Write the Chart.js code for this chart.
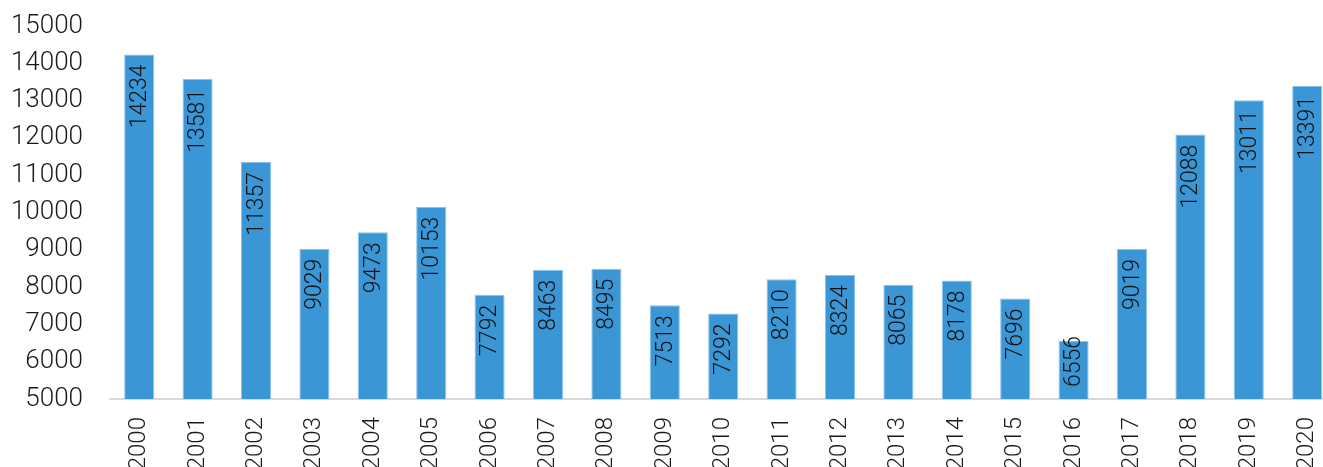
<!DOCTYPE html>
<html>
<head>
<meta charset="utf-8">
<script src="https://cdn.jsdelivr.net/npm/chart.js@4.4.1/dist/chart.umd.min.js"></script>
<style>
  html, body { margin: 0; padding: 0; background: #fff; overflow: hidden; }
  #wrap { width: 1354px; height: 467px; }
</style>
</head>
<body>
<div id="wrap"><canvas id="myChart" width="1354" height="467"></canvas></div>
<script>
// years on the x axis
const years = ['2000', '2001', '2002', '2003', '2004', '2005', '2006', '2007', '2008', '2009', '2010',
  '2011', '2012', '2013', '2014', '2015', '2016', '2017', '2018', '2019', '2020'];

// bar values
const counts = [14234, 13581, 11357, 9029, 9473, 10153, 7792, 8463, 8495, 7513, 7292,
  8210, 8324, 8065, 8178, 7696, 6556, 9019, 12088, 13011, 13391];

// y axis range
const yMin = 5000;
const yMax = 15000;
const yStep = 1000;

const FONT = 'Roboto, "Liberation Sans", sans-serif';

// draws the value inside the top of each bar, rotated
const barLabels = {
  id: 'barLabels',
  afterDatasetsDraw(chart) {
    const ctx = chart.ctx;
    const meta = chart.getDatasetMeta(0);
    const base = chart.scales.y.getPixelForValue(yMin);
    ctx.save();
    ctx.font = '300 23px ' + FONT;
    ctx.fillStyle = '#111';
    ctx.textBaseline = 'middle';
    meta.data.forEach((bar, i) => {
      const text = String(counts[i]);
      const len = ctx.measureText(text).width;
      let top = bar.y + 10;
      // not enough room: keep a margin above the base instead
      if (top + len > base - 12) {
        top = base - 12 - len;
      }
      ctx.save();
      ctx.translate(bar.x + 1, top);
      ctx.rotate(-Math.PI / 2);
      ctx.textAlign = 'right';
      ctx.fillText(text, 0, 0);
      ctx.restore();
    });
    ctx.restore();
  }
};

const config = {
  type: 'bar',
  data: {
    labels: years,
    datasets: [{
      data: counts,
      backgroundColor: '#3a96d5',
      borderColor: '#8cc2ea',
      borderWidth: 1,
      barPercentage: 0.515,
      categoryPercentage: 1
    }]
  },
  options: {
    responsive: false,
    animation: false,
    layout: {
      padding: 0
    },
    plugins: {
      legend: { display: false },
      tooltip: { enabled: false }
    },
    scales: {
      x: {
        grid: { display: false, drawTicks: false },
        border: { display: true, color: '#d9d9d9', width: 2 },
        ticks: {
          minRotation: 90,
          maxRotation: 90,
          padding: 18,
          color: '#1a1a1a',
          font: { family: FONT, size: 24, weight: 300 }
        },
        afterFit(scale) { scale.height = 68; }
      },
      y: {
        min: yMin,
        max: yMax,
        grid: { display: false, drawTicks: false },
        border: { display: false },
        ticks: {
          stepSize: yStep,
          padding: 27,
          color: '#1a1a1a',
          font: { family: FONT, size: 26, weight: 300 },
          callback: (v) => String(v)
        },
        afterFit(scale) {
          scale.width = 110;
          scale.paddingTop = 26;
          scale.paddingBottom = 16;
        }
      }
    }
  },
  plugins: [barLabels]
};

const canvas = document.getElementById('myChart');
new Chart(canvas.getContext('2d'), config);
</script>
</body>
</html>
